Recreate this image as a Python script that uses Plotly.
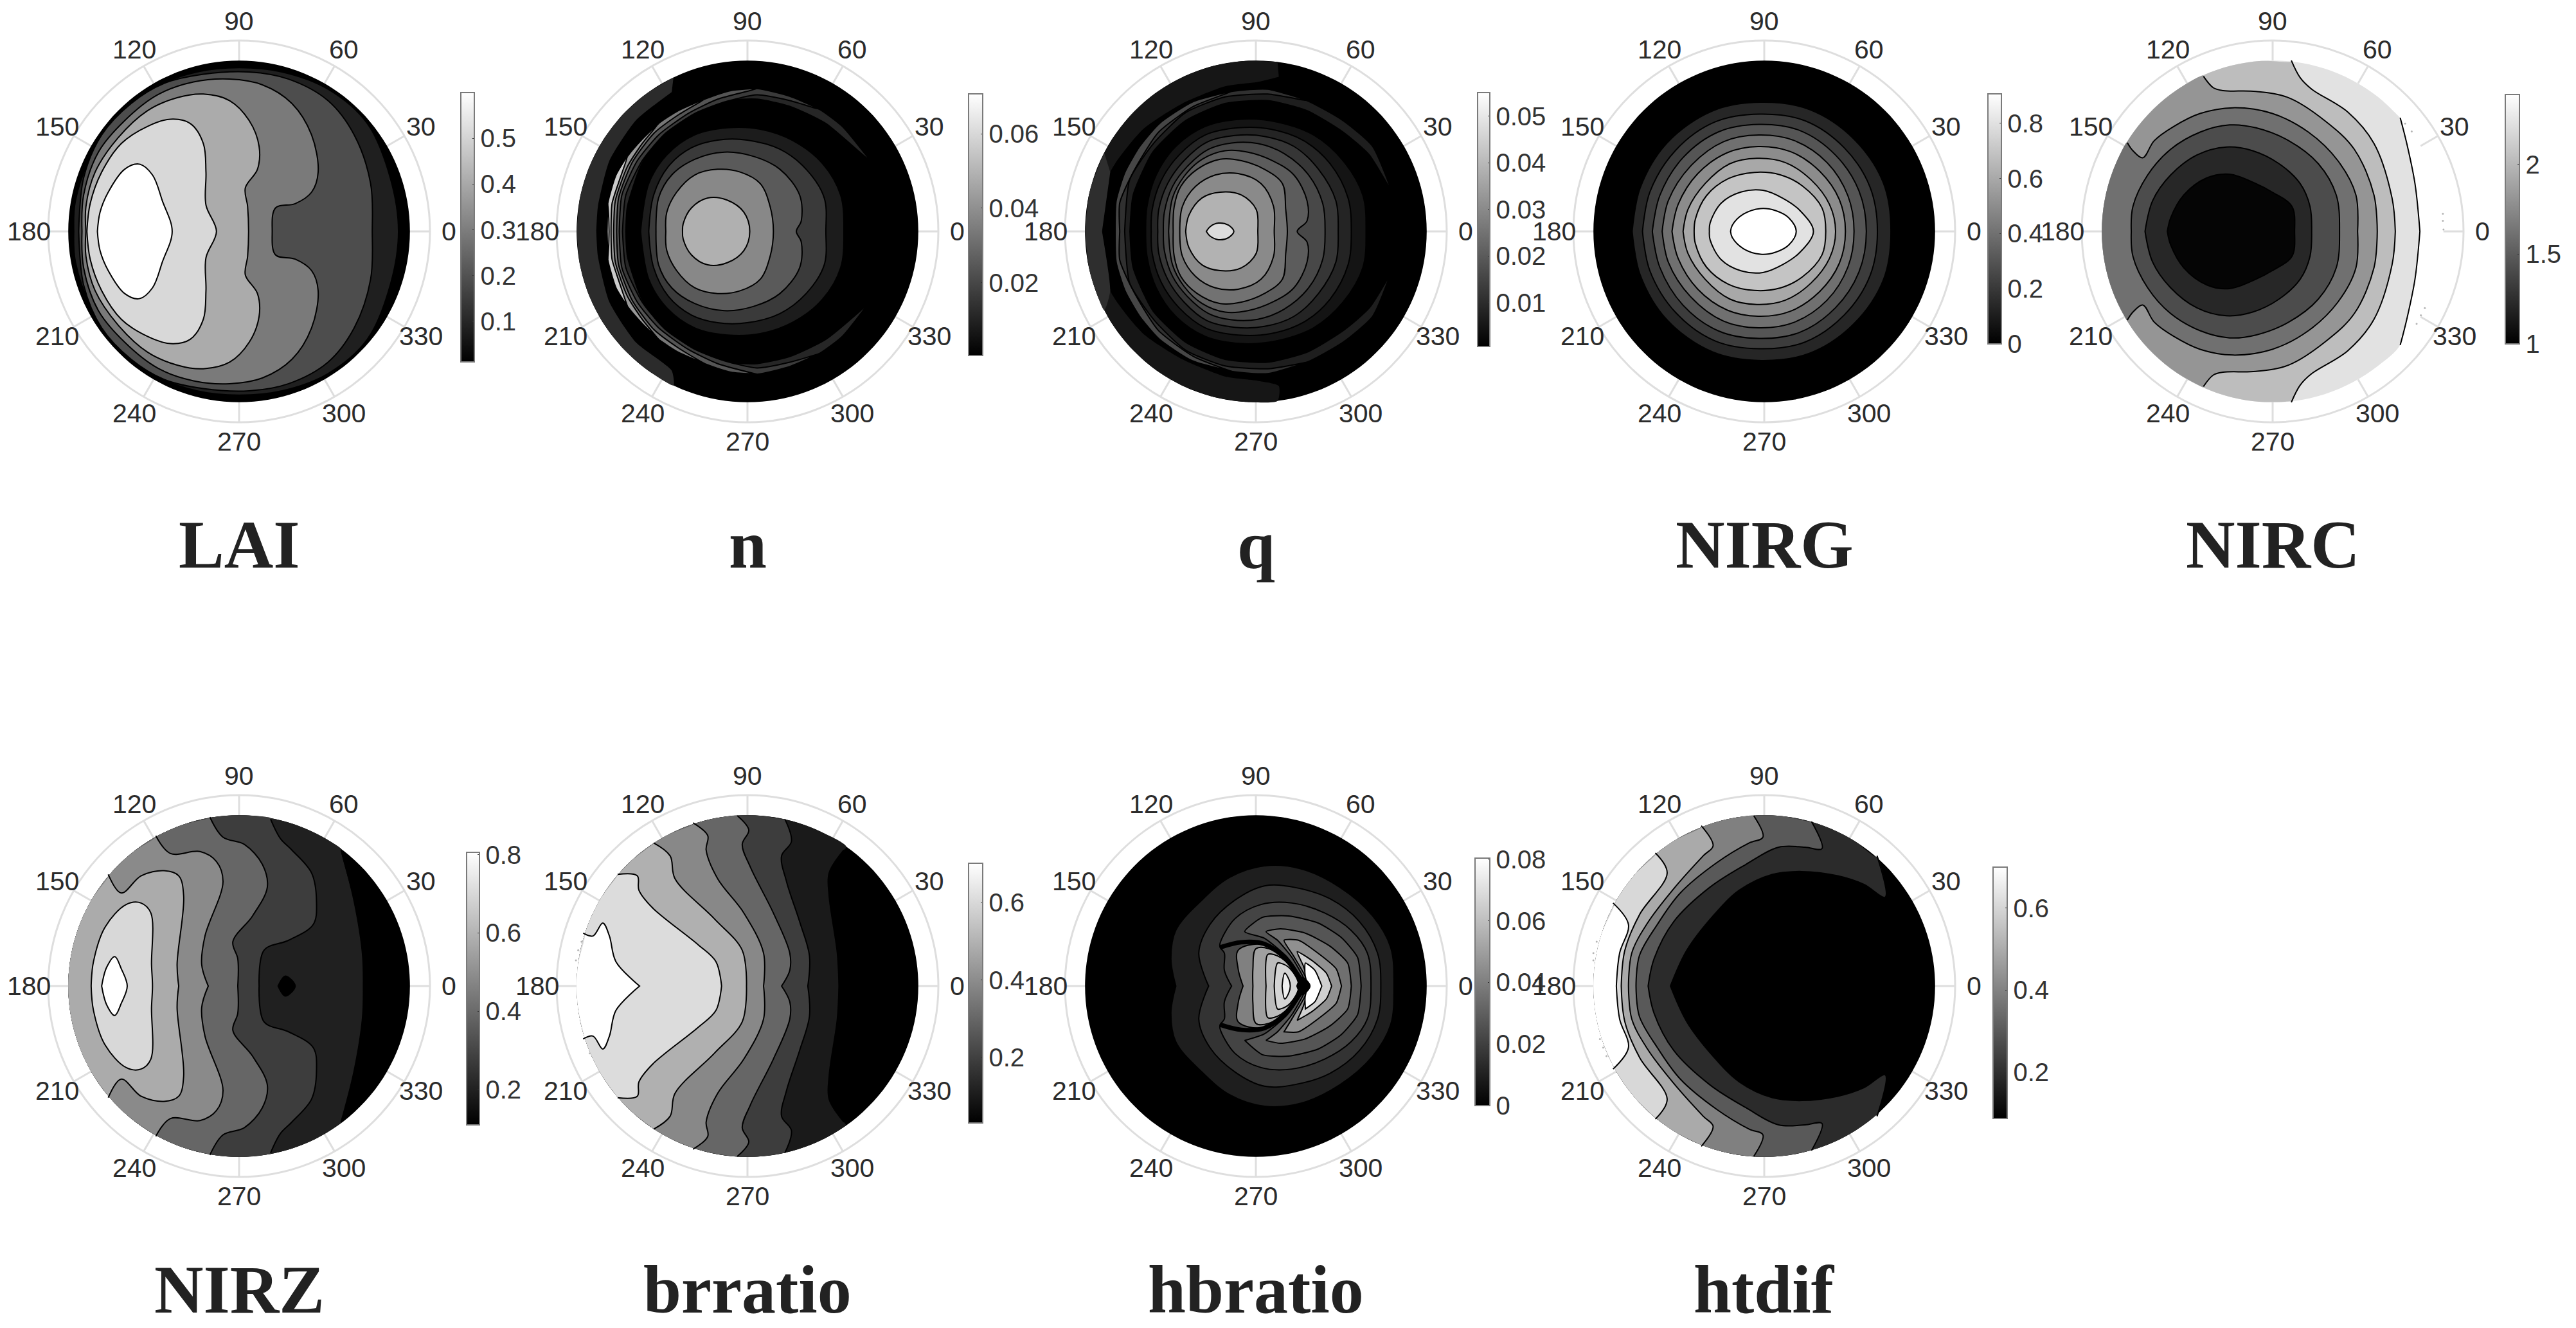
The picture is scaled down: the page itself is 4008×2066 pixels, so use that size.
import math
import plotly.graph_objects as go

W, H = 4008, 2066
RING_PX = 297          # outer ring radius on the page
READ_X, READ_Y = 582, 667   # outer ring radius in the units the contours were read in
DISC_R = 0.895         # edge of the filled field, in ring radii
LABEL_R = 1.10

ANGLES = list(range(0, 360, 30))
PANEL_CX = [372, 1163, 1954, 2745, 3536, 372, 1163, 1954, 2745]
PANEL_CY = [360, 360, 360, 360, 360, 1534, 1534, 1534, 1534]
TITLES = ["LAI", "n", "q", "NIRG", "NIRC", "NIRZ", "brratio", "hbratio", "htdif"]
TITLE_Y = [848, 848, 848, 848, 848, 2006, 2006, 2006, 2006]

# colour bars: value range, ticks
CB_MIN = [0.0116, 0.0005, 0.0006, 0, 1, 0.11, 0.031, 0, 0.087]
CB_MAX = [0.6, 0.0707, 0.0551, 0.907, 2.39, 0.806, 0.701, 0.0804, 0.70]
CB_TICKS = [
    [0.1, 0.2, 0.3, 0.4, 0.5],
    [0.02, 0.04, 0.06],
    [0.01, 0.02, 0.03, 0.04, 0.05],
    [0, 0.2, 0.4, 0.6, 0.8],
    [1, 1.5, 2],
    [0.2, 0.4, 0.6, 0.8],
    [0.2, 0.4, 0.6],
    [0, 0.02, 0.04, 0.06, 0.08],
    [0.2, 0.4, 0.6],
]
CB_BOX = [  # left, right, top, bottom on the page
    (717, 738, 144, 563), (1507, 1529, 146, 553), (2299, 2318, 144, 539),
    (3093, 3114, 146, 535), (3898, 3920, 147, 535), (726, 746, 1326, 1750),
    (1507, 1529, 1343, 1747), (2295, 2318, 1335, 1720), (3101, 3123, 1349, 1740),
]

# contours: upper half only, the field is symmetric about the 0-180 line.
# points are (across, up) from the panel centre
LAI_GRAYS = [0x1f, 0x4d, 0x7a, 0xab, 0xd8, 0xff]
LAI_LINES = [
    [(486, 0), (461, 187), (391, 377), (271, 497), (131, 557), (0, 572), (-129, 557), (-249, 507), (-359, 407), (-449, 267), (-499, 107), (-504, 0)],
    [(406, 0), (401, 167), (351, 337), (271, 457), (151, 532), (31, 557), (-109, 549), (-229, 517), (-329, 447), (-419, 337), (-474, 187), (-489, 0)],
    [(101, 0), (111, 82), (171, 97), (221, 137), (241, 207), (221, 337), (161, 447), (71, 512), (-29, 532), (-139, 522), (-249, 477), (-349, 387), (-429, 277), (-474, 127), (-479, 0)],
    [(29, 0), (26, 87), (19, 152), (56, 217), (61, 297), (31, 387), (-29, 457), (-109, 480), (-189, 467), (-279, 422), (-369, 327), (-439, 207), (-467, 87), (-467, 0)],
    [(-69, 0), (-101, 92), (-101, 207), (-109, 307), (-149, 377), (-209, 392), (-279, 367), (-359, 307), (-419, 207), (-454, 97), (-464, 0)],
    [(-204, 0), (-234, 107), (-264, 197), (-304, 235), (-349, 217), (-399, 137), (-424, 67), (-432, 0)],
]

N_BAND_TIP = (-221, 527)
N_BAND = [(-231, 487), (-341, 387), (-421, 247), (-456, 87), (-461, 0)]
N_GRAYS = [0x1c, 0x3a, 0x5a, 0x88, 0xb0]
N_LINES = [
    [(294, 0), (284, 127), (229, 237), (139, 317), (39, 357), (-61, 362), (-161, 337), (-246, 267), (-301, 167), (-326, 0)],
    [(239, 0), (234, 117), (179, 217), (99, 287), (-1, 319), (-91, 319), (-171, 292), (-241, 227), (-286, 127), (-301, 0)],
    [(149, 0), (164, 37), (159, 127), (99, 217), (19, 262), (-71, 277), (-161, 252), (-231, 197), (-271, 117), (-279, 0)],
    [(79, 0), (69, 87), (39, 167), (-21, 207), (-91, 217), (-161, 197), (-216, 137), (-246, 67), (-249, 0)],
    [(7, 0), (-11, 67), (-61, 109), (-121, 117), (-171, 82), (-196, 27), (-198, 0)],
]
N_RIDGE = [(369, 252), (289, 367), (219, 427), (129, 472), (29, 499), (-51, 492), (-131, 462), (-211, 422), (-271, 377), (-321, 322), (-366, 262), (-401, 197), (-426, 97), (-428, 0)]
N_RIDGE_START = [0, 2, 4, 6, 8, 10, 12]
N_RIDGE_GRAYS = [0x26, 0x3a, 0x55, 0x77, 0x99, 0xcc, 0xee]
N_RIDGE_INNER = [
    [(239, 377), (129, 437), (29, 462), (-71, 457), (-171, 422), (-261, 347), (-326, 227), (-366, 87), (-371, 0)],
    [(129, 457), (29, 477), (-71, 452), (-161, 412), (-251, 342), (-321, 247), (-371, 127), (-381, 0)],
    [(-91, 462), (-181, 412), (-271, 337), (-336, 247), (-383, 127), (-391, 0)],
    [(-211, 407), (-286, 342), (-351, 242), (-393, 117), (-399, 0)],
    [(-321, 307), (-366, 227), (-403, 107), (-408, 0)],
    [(-391, 177), (-413, 97), (-416, 0)],
    [(-423, 47), (-422, 0)],
]

Q_BAND_TIPS = [(66, 592), (-449, 267)]
Q_BAND_GRAYS = [0x16, 0x2e]
Q_BANDS = [
    [(70, 540), (6, 522), (-94, 507), (-224, 447), (-344, 357), (-444, 207), (-469, 0)],
    [(-444, 207), (-469, 0)],
]
Q_GRAYS = [0x14, 0x24, 0x36, 0x48, 0x5c, 0x72, 0x8a, 0xb2, 0xdc]
Q_LINES = [
    [(336, 0), (326, 127), (266, 247), (176, 337), (66, 382), (-44, 392), (-154, 367), (-244, 297), (-304, 197), (-332, 87), (-336, 0)],
    [(291, 0), (281, 117), (226, 237), (146, 317), (46, 357), (-54, 362), (-154, 337), (-234, 267), (-289, 177), (-316, 77), (-319, 0)],
    [(251, 0), (244, 107), (191, 217), (116, 297), (26, 332), (-64, 335), (-149, 312), (-219, 247), (-269, 167), (-296, 77), (-299, 0)],
    [(211, 0), (204, 97), (161, 197), (86, 272), (6, 307), (-74, 309), (-144, 287), (-209, 227), (-254, 157), (-279, 67), (-282, 0)],
    [(126, 0), (156, 37), (156, 107), (116, 197), (51, 247), (-24, 277), (-94, 282), (-164, 252), (-219, 192), (-254, 117), (-266, 0)],
    [(96, 0), (91, 77), (81, 167), (26, 217), (-44, 247), (-109, 252), (-179, 217), (-229, 157), (-249, 87), (-252, 0)],
    [(56, 0), (54, 87), (16, 167), (-54, 202), (-124, 197), (-184, 157), (-224, 87), (-232, 0)],
    [(6, 0), (1, 77), (-44, 127), (-109, 137), (-164, 117), (-204, 57), (-214, 0)],
    [(-67, 0), (-84, 22), (-114, 29), (-139, 17), (-151, 0)],
]
Q_RIDGE = [(411, 147), (356, 297), (266, 387), (156, 457), (36, 497), (-74, 489), (-194, 452), (-294, 377), (-354, 297), (-399, 207), (-426, 107), (-429, 0)]
Q_RIDGE_START = [0, 3, 5]
Q_RIDGE_GRAYS = [0x1e, 0x30, 0x46]
Q_RIDGE_INNER = [
    [(346, 267), (266, 347), (156, 422), (36, 457), (-94, 447), (-214, 387), (-314, 277), (-374, 127), (-384, 0)],
    [(36, 480), (-94, 470), (-214, 415), (-310, 310), (-385, 180), (-400, 0)],
    [(-190, 437), (-298, 345), (-375, 205), (-415, 100), (-415, 0)],
]

NIRG_READ = 776
NIRG_GRAYS = [0x26, 0x3c, 0x55, 0x70, 0x8c, 0xa8, 0xc4, 0xe2, 0xff]
NIRG_LINES = [
    [(515, 0), (485, 195), (365, 375), (185, 495), (-12, 525), (-210, 490), (-395, 360), (-505, 175), (-537, 0)],
    [(460, 0), (430, 180), (325, 340), (165, 450), (-17, 477), (-200, 445), (-360, 330), (-465, 160), (-495, 0)],
    [(415, 0), (385, 165), (290, 310), (145, 410), (-20, 435), (-185, 405), (-330, 300), (-425, 145), (-455, 0)],
    [(365, 0), (340, 145), (255, 280), (120, 370), (-22, 392), (-165, 365), (-300, 265), (-390, 125), (-415, 0)],
    [(330, 0), (305, 130), (225, 245), (105, 325), (-25, 345), (-150, 320), (-270, 235), (-350, 110), (-375, 0)],
    [(290, 0), (265, 110), (190, 210), (85, 280), (-30, 297), (-140, 275), (-240, 195), (-310, 90), (-330, 0)],
    [(250, 0), (235, 95), (155, 185), (65, 230), (-40, 240), (-145, 215), (-235, 145), (-280, 50), (-285, 0)],
    [(200, 0), (145, 85), (75, 135), (-5, 167), (-95, 160), (-175, 115), (-220, 35), (-223, 0)],
    [(130, 0), (100, 55), (45, 85), (-15, 93), (-85, 70), (-130, 25), (-137, 0)],
]

NIRC_OPEN_GRAYS = [0xe2, 0xbd, 0x95, 0x70]
NIRC_OPEN = [
    [(449, 0), (434, 167), (409, 307), (389, 397)],
    [(374, 0), (364, 117), (309, 307), (229, 417), (119, 497), (84, 537), (57, 597)],
    [(319, 0), (309, 127), (249, 287), (159, 387), (49, 467), (-51, 489), (-151, 492), (-181, 502), (-211, 542)],
    [(259, 0), (254, 127), (199, 247), (109, 347), (-1, 412), (-121, 432), (-221, 412), (-301, 367), (-361, 317), (-396, 257), (-426, 282), (-443, 310)],
]
NIRC_CLOSED_GRAYS = [0x4c, 0x27, 0x05]
NIRC_CLOSED = [
    [(204, 0), (194, 127), (139, 237), (49, 317), (-51, 362), (-131, 372), (-221, 347), (-311, 287), (-381, 197), (-426, 87), (-431, 0)],
    [(119, 0), (114, 87), (84, 167), (19, 237), (-61, 282), (-141, 295), (-231, 267), (-311, 197), (-366, 107), (-389, 0)],
    [(67, 0), (59, 87), (-1, 137), (-51, 167), (-131, 200), (-201, 187), (-271, 127), (-311, 47), (-321, 0)],
]
NIRC_SPECKS = [(519, 62), (519, 37), (521, 7), (404, 377), (424, 349), (464, -268), (452, -293), (439, -323)]

NIRZ_OPEN_GRAYS = [0x20, 0x3d, 0x66, 0x8a, 0xab]
NIRZ_OPEN = [
    [(379, 0), (376, 115), (351, 295), (311, 475)],
    [(61, 0), (76, 125), (151, 160), (226, 215), (236, 295), (221, 395), (161, 475), (126, 515), (96, 583)],
    [(-4, 0), (-4, 95), (-19, 155), (41, 245), (86, 345), (71, 425), (16, 495), (-49, 520), (-89, 590)],
    [(-94, 0), (-114, 75), (-104, 175), (-49, 365), (-69, 435), (-119, 470), (-209, 463), (-254, 525)],
    [(-184, 0), (-189, 75), (-169, 315), (-184, 385), (-229, 403), (-299, 385), (-359, 325), (-399, 390)],
]
NIRZ_CLOSED_GRAYS = [0xd8, 0xff, 0x00]
NIRZ_CLOSED = [
    [(-264, 0), (-267, 75), (-269, 255), (-299, 290), (-344, 285), (-409, 205), (-444, 85), (-451, 0)],
    [(-341, 0), (-359, 60), (-379, 103), (-404, 65), (-419, 0)],
    [(171, 0), (141, 35), (119, 0)],
]

BR_GRAYS = [0x1a, 0x3d, 0x66, 0x88, 0xb0, 0xdc, 0xff]
BR_OPEN = [
    [(279, 0), (274, 115), (249, 315), (249, 395), (294, 475)],
    [(184, 0), (189, 105), (159, 225), (119, 365), (104, 455), (134, 505), (114, 583)],
    [(104, 0), (129, 55), (129, 115), (79, 255), (9, 415), (-16, 495), (4, 545), (-31, 595)],
    [(49, 0), (49, 115), (-11, 255), (-91, 375), (-126, 475), (-121, 525), (-166, 570)],
    [(-3, 0), (-16, 125), (-101, 235), (-221, 375), (-236, 455), (-286, 500)],
    [(-79, 0), (-96, 85), (-151, 145), (-291, 275), (-331, 335), (-336, 385), (-396, 390)],
    [(-329, 0), (-401, 85), (-421, 175), (-441, 220), (-471, 175), (-501, 185)],
]
BR_SPECKS = [(-506, 155), (-516, 125), (-523, 90), (-481, -235)]

HB_GRAYS = [0x1e, 0x33, 0x44]
HB_CLOSED = [
    [(421, 0), (411, 135), (356, 245), (256, 345), (136, 410), (26, 420), (-80, 380), (-165, 300), (-244, 195), (-259, 95), (-244, 0)],
    [(381, 0), (371, 115), (316, 225), (226, 305), (116, 345), (26, 350), (-64, 300), (-140, 215), (-174, 115), (-144, 0)],
    [(351, 0), (340, 115), (290, 195), (210, 255), (110, 290), (16, 285), (-64, 235), (-109, 150), (-109, 135), (-96, 115), (-96, 55), (-74, 0)],
]
HB_RIGHT_GRAYS = [0x55, 0x70, 0x90, 0xd0, 0xff]
HB_RIGHT_OUTER = [
    [(-34, 190), (20, 240), (100, 245), (190, 220), (260, 170), (310, 100), (321, 0)],
    [(31, 190), (75, 200), (150, 185), (225, 140), (280, 80), (291, 0)],
    [(86, 160), (130, 160), (195, 110), (245, 60), (261, 0)],
    [(126, 120), (170, 90), (215, 45), (231, 0)],
    [(151, 80), (180, 55), (201, 0)],
]
HB_RIGHT_INNER = [
    [(-34, 190), (26, 167), (96, 100), (141, 25), (156, 0)],
    [(31, 190), (66, 160), (110, 100), (145, 30), (156, 0)],
    [(86, 160), (115, 105), (150, 35), (156, 0)],
    [(126, 120), (145, 70), (156, 25), (158, 0)],
    [(151, 80), (150, 40), (158, 0)],
]
HB_LEFT_GRAYS = [0x80, 0xa0, 0xbb, 0xd4, 0xf0]
HB_LEFT = [
    [(131, 0), (96, 85), (20, 145), (-54, 125), (-54, 60), (-39, 0)],
    [(131, 0), (96, 82), (40, 130), (0, 130), (-9, 60), (-9, 0)],
    [(131, 0), (96, 80), (55, 110), (36, 110), (31, 0)],
    [(131, 0), (105, 60), (75, 80), (66, 80), (56, 0)],
    [(105, 0), (100, 25), (88, 45), (80, 0)],
]
HB_ARC = [(-109, 135), (-44, 153), (26, 147), (96, 90), (136, 25), (156, 0)]
HB_CORE = [(165, 0), (140, 30), (125, 0)]

HT_GRAYS = [0x2b, 0x59, 0x80, 0xaa, 0xd8, 0xff]
HT_OPEN = [
    [(-286, 0), (-236, 125), (-156, 245), (-76, 335), (24, 390), (114, 400), (224, 385), (304, 355), (369, 310), (344, 455)],
    [(-354, 0), (-336, 95), (-276, 225), (-166, 345), (-56, 425), (44, 485), (124, 485), (176, 480), (144, 575)],
    [(-391, 0), (-381, 105), (-326, 215), (-256, 325), (-146, 430), (-46, 500), (-4, 520), (-32, 595)],
    [(-414, 0), (-404, 115), (-356, 220), (-276, 340), (-186, 455), (-156, 490), (-192, 560)],
    [(-436, 0), (-425, 125), (-380, 250), (-296, 395), (-332, 465)],
    [(-451, 0), (-441, 115), (-414, 215), (-461, 290)],
]
HT_SPECKS = [(-511, 155), (-521, 115), (-521, 90), (-501, -185), (-491, -215), (-481, -245)]


def gray(v):
    return "rgb(%d,%d,%d)" % (v, v, v)


def to_polar(points):
    out = []
    for dx, dy in points:
        u, v = dx / READ_X, dy / READ_Y
        out.append((math.hypot(u, v), math.degrees(math.atan2(v, u))))
    return out


def mirror(path):
    return [(r, -t) for r, t in path]


def rim_arc(start, stop, step=10):
    n = max(int(abs(stop - start) / step), 1)
    return [(DISC_R, start + (stop - start) * i / n) for i in range(n + 1)]


def add_path(fig, sub, path, fill=None, line=2, smooth=1.0):
    fig.add_trace(go.Scatterpolar(
        r=[p[0] for p in path], theta=[p[1] for p in path], subplot=sub, mode="lines",
        fill="toself" if fill is not None else "none",
        fillcolor=gray(fill) if fill is not None else None,
        line=dict(color="black", width=line, shape="spline", smoothing=smooth),
        hoverinfo="skip", showlegend=False,
    ))


def add_disc(fig, sub, fill):
    add_path(fig, sub, rim_arc(0, 360), fill=fill, line=0)


def add_closed(fig, sub, half, fill):
    p = to_polar(half)
    add_path(fig, sub, p + mirror(p)[::-1], fill=fill)


def add_open(fig, sub, half, fill):
    p = to_polar(half)
    curve = mirror(p)[::-1] + p
    tip = p[-1][1]
    add_path(fig, sub, curve + rim_arc(tip, 360 - tip), fill=fill, line=0)
    add_path(fig, sub, curve)


def add_crescent(fig, sub, outer, inner, fill, line=2):
    a, b = to_polar(outer), to_polar(inner)
    add_path(fig, sub, a + mirror(a)[::-1] + mirror(b) + b[::-1], fill=fill, line=line, smooth=0.6)


def add_rim_band(fig, sub, tip, inner, fill):
    t = to_polar([tip])[0][1]
    a = rim_arc(t, 180)
    b = to_polar(inner)
    add_path(fig, sub, a + mirror(a)[::-1] + mirror(b) + b[::-1], fill=fill, line=0, smooth=0.6)


def add_specks(fig, sub, points):
    p = to_polar(points)
    fig.add_trace(go.Scatterpolar(
        r=[q[0] for q in p], theta=[q[1] for q in p], subplot=sub, mode="markers",
        marker=dict(size=3, color="#b4b4b4"), hoverinfo="skip", showlegend=False,
    ))


fig = go.Figure()
layout = {}
for i in range(9):
    name = "polar" if i == 0 else "polar%d" % (i + 1)
    cx, cy = PANEL_CX[i], PANEL_CY[i]
    layout[name] = dict(
        domain=dict(x=[(cx - RING_PX) / W, (cx + RING_PX) / W],
                    y=[1 - (cy + RING_PX) / H, 1 - (cy - RING_PX) / H]),
        bgcolor="rgba(0,0,0,0)",
        radialaxis=dict(visible=False, range=[0, 1]),
        angularaxis=dict(
            tickmode="array", tickvals=ANGLES, showticklabels=False,
            direction="counterclockwise", rotation=0, layer="below traces",
            showline=True, linecolor="#dedede", linewidth=3,
            showgrid=True, gridcolor="#dedede", gridwidth=3, ticks="",
        ),
    )

# LAI
add_disc(fig, "polar", 0)
for half, g in zip(LAI_LINES, LAI_GRAYS):
    add_closed(fig, "polar", half, g)

# n
add_disc(fig, "polar2", 0)
add_rim_band(fig, "polar2", N_BAND_TIP, N_BAND, 0x2b)
for half, g in zip(N_LINES, N_GRAYS):
    add_closed(fig, "polar2", half, g)
for start, inner, g in zip(N_RIDGE_START, N_RIDGE_INNER, N_RIDGE_GRAYS):
    outer = N_RIDGE[start:]
    add_crescent(fig, "polar2", outer, [outer[0]] + inner, g)

# q
add_disc(fig, "polar3", 0)
for tip, inner, g in zip(Q_BAND_TIPS, Q_BANDS, Q_BAND_GRAYS):
    add_rim_band(fig, "polar3", tip, inner, g)
for half, g in zip(Q_LINES, Q_GRAYS):
    add_closed(fig, "polar3", half, g)
for start, inner, g in zip(Q_RIDGE_START, Q_RIDGE_INNER, Q_RIDGE_GRAYS):
    outer = Q_RIDGE[start:]
    add_crescent(fig, "polar3", outer, [outer[0]] + inner, g)

# NIRG
add_disc(fig, "polar4", 0)
for half, g in zip(NIRG_LINES, NIRG_GRAYS):
    scaled = [(x * READ_X / NIRG_READ, y * READ_Y / NIRG_READ) for x, y in half]
    add_closed(fig, "polar4", scaled, g)

# NIRC
add_disc(fig, "polar5", 255)
for half, g in zip(NIRC_OPEN, NIRC_OPEN_GRAYS):
    add_open(fig, "polar5", half, g)
for half, g in zip(NIRC_CLOSED, NIRC_CLOSED_GRAYS):
    add_closed(fig, "polar5", half, g)
add_specks(fig, "polar5", NIRC_SPECKS)

# NIRZ
add_disc(fig, "polar6", 0)
for half, g in zip(NIRZ_OPEN, NIRZ_OPEN_GRAYS):
    add_open(fig, "polar6", half, g)
for half, g in zip(NIRZ_CLOSED, NIRZ_CLOSED_GRAYS):
    add_closed(fig, "polar6", half, g)

# brratio
add_disc(fig, "polar7", 0)
for half, g in zip(BR_OPEN, BR_GRAYS):
    add_open(fig, "polar7", half, g)
add_specks(fig, "polar7", BR_SPECKS)

# hbratio
add_disc(fig, "polar8", 0)
for half, g in zip(HB_CLOSED, HB_GRAYS):
    add_closed(fig, "polar8", half, g)
for half, g in zip(HB_LEFT, HB_LEFT_GRAYS):
    add_closed(fig, "polar8", half, g)
for outer, inner, g in zip(HB_RIGHT_OUTER, HB_RIGHT_INNER, HB_RIGHT_GRAYS):
    add_crescent(fig, "polar8", outer, inner, g)
arc = to_polar(HB_ARC)
add_path(fig, "polar8", arc + mirror(arc)[::-1][1:], line=7)
add_closed(fig, "polar8", HB_CORE, 0)

# htdif
add_disc(fig, "polar9", 0)
for half, g in zip(HT_OPEN, HT_GRAYS):
    add_open(fig, "polar9", half, g)
add_specks(fig, "polar9", HT_SPECKS)

# colour bars hang on one hidden marker in each panel
for i in range(9):
    left, right, top, bottom = CB_BOX[i]
    sub = "polar" if i == 0 else "polar%d" % (i + 1)
    fig.add_trace(go.Scatterpolar(
        r=[0], theta=[0], subplot=sub, mode="markers", hoverinfo="skip", showlegend=False,
        marker=dict(
            size=1, opacity=0, color=[CB_MIN[i]], cmin=CB_MIN[i], cmax=CB_MAX[i],
            colorscale=[[0, "black"], [1, "white"]], showscale=True,
            colorbar=dict(
                x=left / W, xanchor="left", y=1 - top / H, yanchor="top",
                len=(bottom - top) / H, lenmode="fraction",
                thickness=right - left, thicknessmode="pixels", xpad=0, ypad=0,
                outlinecolor="#7a7a7a", outlinewidth=2, borderwidth=0,
                tickmode="array", tickvals=CB_TICKS[i], ticktext=[str(t) for t in CB_TICKS[i]],
                ticks="inside", ticklen=4, tickcolor="#333333", tickwidth=1,
                tickprefix="\u00a0",
                tickfont=dict(family="Liberation Sans", size=40, color="#333333"),
            ),
        ),
    ))

annotations = []
for i, title in enumerate(TITLES):
    annotations.append(dict(
        text="<b>%s</b>" % title, xref="paper", yref="paper", showarrow=False,
        x=PANEL_CX[i] / W, y=1 - TITLE_Y[i] / H, xanchor="center", yanchor="middle",
        font=dict(family="Liberation Serif", size=106, color="#222222"),
    ))
    # angle labels sit centred on a fixed radius, as in the original
    for a in ANGLES:
        t = math.radians(a)
        annotations.append(dict(
            text=str(a), xref="paper", yref="paper", showarrow=False,
            x=(PANEL_CX[i] + LABEL_R * RING_PX * math.cos(t)) / W,
            y=1 - (PANEL_CY[i] - LABEL_R * RING_PX * math.sin(t)) / H,
            xanchor="center", yanchor="middle",
            font=dict(family="Liberation Sans", size=41, color="#2b2b2b"),
        ))

fig.update_layout(
    width=W, height=H, paper_bgcolor="white", plot_bgcolor="white",
    margin=dict(l=0, r=0, t=0, b=0, pad=0, autoexpand=False),
    annotations=annotations, showlegend=False, **layout,
)

fig.write_html("out.html", config={"displayModeBar": False},
               post_script="document.body.style.margin='0';document.body.style.overflow='hidden';")
